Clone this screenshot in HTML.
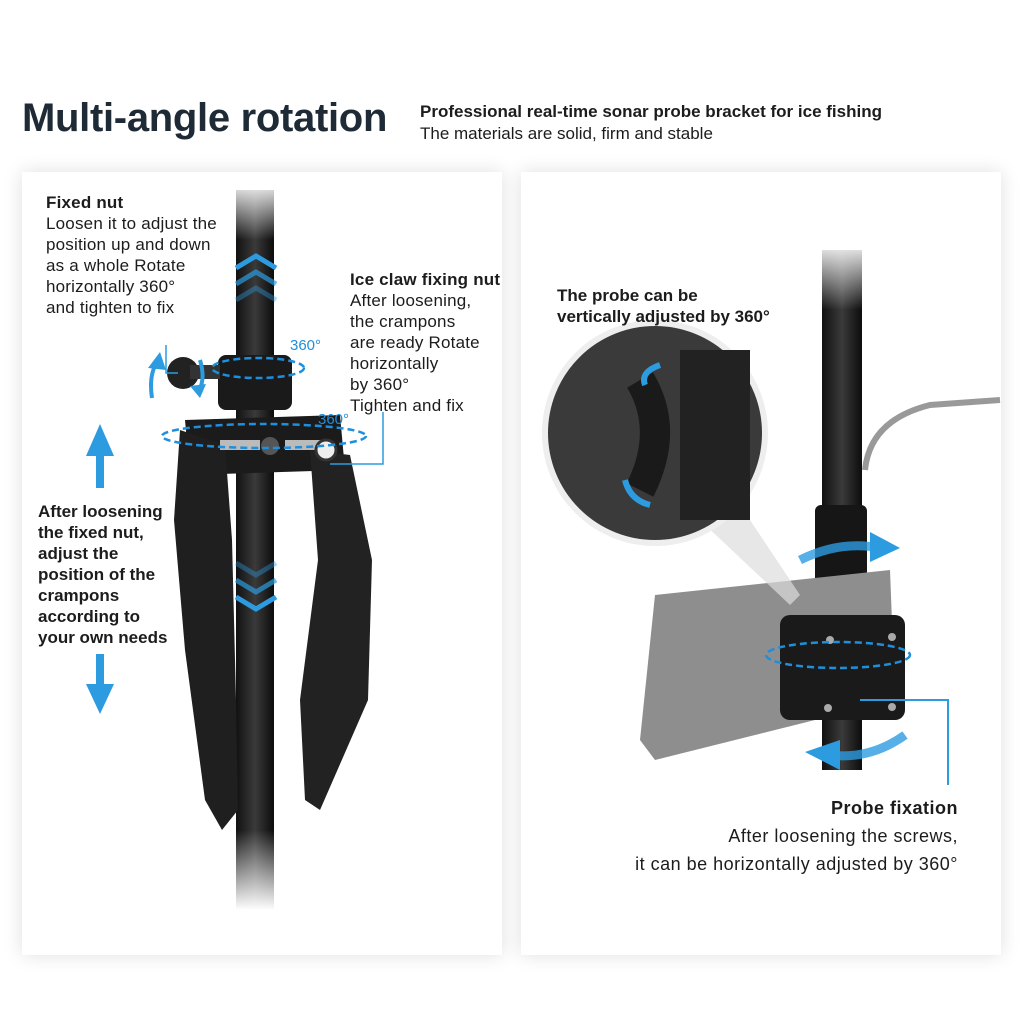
<!DOCTYPE html>
<html><head><meta charset="utf-8"><style>
html,body{margin:0;padding:0;width:1024px;height:1024px;background:#fff;overflow:hidden;font-family:"Liberation Sans","DejaVu Sans",sans-serif;color:#1c1c1c}
.abs{position:absolute}
.panel{position:absolute;background:#fff;box-shadow:0 0 18px rgba(0,0,0,0.13)}
h1{position:absolute;left:22px;top:96px;margin:0;font-size:40px;font-weight:bold;color:#1e2a36;letter-spacing:-0.3px}
.t{position:absolute;font-size:17px;line-height:21px;letter-spacing:0.2px}
.b{font-weight:bold}
</style></head><body>
<h1>Multi-angle rotation</h1>
<div class="t b" style="left:420px;top:101px;font-size:17px;letter-spacing:0">Professional real-time sonar probe bracket for ice fishing</div>
<div class="t" style="left:420px;top:123px;font-size:17px;letter-spacing:0">The materials are solid, firm and stable</div>
<div class="panel" style="left:22px;top:172px;width:480px;height:783px"></div>
<div class="panel" style="left:521px;top:172px;width:480px;height:783px"></div>

<svg class="abs" style="left:0;top:0" width="1024" height="1024">
<defs>
<linearGradient id="pole" x1="0" x2="1"><stop offset="0" stop-color="#111"/><stop offset=".5" stop-color="#3a3a3a"/><stop offset="1" stop-color="#0c0c0c"/></linearGradient>
<linearGradient id="fade" x1="0" y1="0" x2="0" y2="1"><stop offset="0" stop-color="#fff" stop-opacity="1"/><stop offset="1" stop-color="#fff" stop-opacity="0"/></linearGradient>
<linearGradient id="fade2" x1="0" y1="0" x2="0" y2="1"><stop offset="0" stop-color="#fff" stop-opacity="0"/><stop offset="1" stop-color="#fff" stop-opacity="1"/></linearGradient>
</defs>
<rect x="236" y="190" width="38" height="720" fill="url(#pole)"/>
<rect x="230" y="180" width="50" height="60" fill="url(#fade)"/>
<rect x="230" y="830" width="50" height="80" fill="url(#fade2)"/>
<g fill="none" stroke="#2c9be0" stroke-width="5">
<polyline points="236,268 256,256 276,268"/><polyline points="236,284 256,272 276,284" opacity=".7"/><polyline points="236,300 256,288 276,300" opacity=".4"/>
<polyline points="236,563 256,575 276,563" opacity=".4"/><polyline points="236,580 256,592 276,580" opacity=".7"/><polyline points="236,597 256,609 276,597"/>
</g>
<rect x="218" y="355" width="74" height="55" rx="8" fill="#1a1a1a"/>
<circle cx="183" cy="373" r="16" fill="#222"/>
<rect x="190" y="365" width="30" height="14" fill="#333"/>
<path d="M185,420 L340,415 L345,470 L190,475 Z" fill="#1b1b1b"/>
<path d="M180,430 L225,445 L232,540 L236,700 L238,810 L222,830 L205,800 L185,650 L174,520 Z" fill="#1f1f1f"/>
<path d="M310,450 L350,455 L372,560 L368,700 L320,810 L305,800 L300,700 L318,560 Z" fill="#222"/>
<circle cx="270" cy="446" r="9" fill="#555"/>
<rect x="220" y="440" width="40" height="10" fill="#bbb"/>
<rect x="285" y="440" width="40" height="10" fill="#bbb"/>
<circle cx="326" cy="450" r="10" fill="#eee" stroke="#333" stroke-width="3"/>
<g fill="none" stroke="#1e8fdc" stroke-width="2.5" stroke-dasharray="7 4">
<ellipse cx="258" cy="368" rx="46" ry="10"/>
<ellipse cx="264" cy="436" rx="102" ry="12"/>
</g>
<path d="M152,398 Q148,372 160,358" stroke="#2c9be0" stroke-width="4" fill="none"/>
<polygon points="148,368 160,352 166,370" fill="#2c9be0"/>
<path d="M200,360 Q206,380 198,392" stroke="#2c9be0" stroke-width="4" fill="none"/>
<polygon points="190,386 200,398 206,384" fill="#2c9be0"/>
<text x="290" y="350" font-size="15" fill="#1e8fdc" font-family="Liberation Sans">360°</text>
<text x="318" y="424" font-size="15" fill="#1e8fdc" font-family="Liberation Sans">360°</text>
<polyline points="166,345 166,373 178,373" stroke="#2c9be0" stroke-width="1.5" fill="none"/>
<polyline points="383,412 383,464 330,464" stroke="#2c9be0" stroke-width="1.5" fill="none"/>
<polygon points="100,424 86,456 96,456 96,488 104,488 104,456 114,456" fill="#2c9be0"/>
<polygon points="100,714 86,684 96,684 96,654 104,654 104,684 114,684" fill="#2c9be0"/>

<path d="M865,470 Q870,420 930,405 L1000,400" stroke="#999" stroke-width="6" fill="none"/>
<rect x="822" y="250" width="40" height="520" fill="url(#pole)"/>
<rect x="815" y="240" width="55" height="70" fill="url(#fade)"/>
<rect x="815" y="505" width="52" height="115" rx="6" fill="#161616"/>
<path d="M655,595 L890,570 L895,700 L655,760 L640,740 Z" fill="#8e8e8e"/>
<rect x="780" y="615" width="125" height="105" rx="10" fill="#1a1a1a"/>
<g fill="#aaa"><circle cx="830" cy="640" r="4"/><circle cx="892" cy="637" r="4"/><circle cx="828" cy="708" r="4"/><circle cx="892" cy="707" r="4"/></g>
<ellipse cx="838" cy="655" rx="72" ry="13" fill="none" stroke="#1e8fdc" stroke-width="2.5" stroke-dasharray="7 4"/>
<path d="M800,560 Q840,540 880,548" stroke="#2c9be0" stroke-width="9" fill="none" opacity=".8"/>
<polygon points="870,532 900,548 870,562" fill="#2c9be0"/>
<path d="M905,735 Q870,760 830,755" stroke="#2c9be0" stroke-width="9" fill="none" opacity=".8"/>
<polygon points="840,740 805,752 840,770" fill="#2c9be0"/>
<polyline points="860,700 948,700 948,785" stroke="#2c9be0" stroke-width="2" fill="none"/>
<polygon points="700,520 790,605 800,595 740,505" fill="#ddd" opacity=".7"/>
<circle cx="655" cy="433" r="110" fill="#3a3a3a" stroke="#eee" stroke-width="6"/>
<rect x="680" y="350" width="70" height="170" fill="#222"/>
<path d="M640,380 Q670,430 640,490" stroke="#1a1a1a" stroke-width="30" fill="none"/>
<path d="M660,365 Q640,372 645,385" stroke="#2c9be0" stroke-width="6" fill="none"/>
<path d="M625,480 Q630,500 650,505" stroke="#2c9be0" stroke-width="6" fill="none"/>
</svg>

<div class="t" style="left:46px;top:192px"><span class="b">Fixed nut</span><br>Loosen it to adjust the<br>position up and down<br>as a whole Rotate<br>horizontally 360°<br>and tighten to fix</div>
<div class="t" style="left:350px;top:269px"><span class="b">Ice claw fixing nut</span><br>After loosening,<br>the crampons<br>are ready Rotate<br>horizontally<br>by 360°<br>Tighten and fix</div>
<div class="t b" style="left:38px;top:501px;letter-spacing:0">After loosening<br>the fixed nut,<br>adjust the<br>position of the<br>crampons<br>according to<br>your own needs</div>
<div class="t b" style="left:557px;top:285px;font-size:17px;letter-spacing:0">The probe can be<br>vertically adjusted by 360°</div>
<div class="t" style="left:560px;top:794px;width:398px;text-align:right;font-size:18px;line-height:28px;letter-spacing:0.5px"><span class="b">Probe fixation</span><br>After loosening the screws,<br>it can be horizontally adjusted by 360°</div>
</body></html>
